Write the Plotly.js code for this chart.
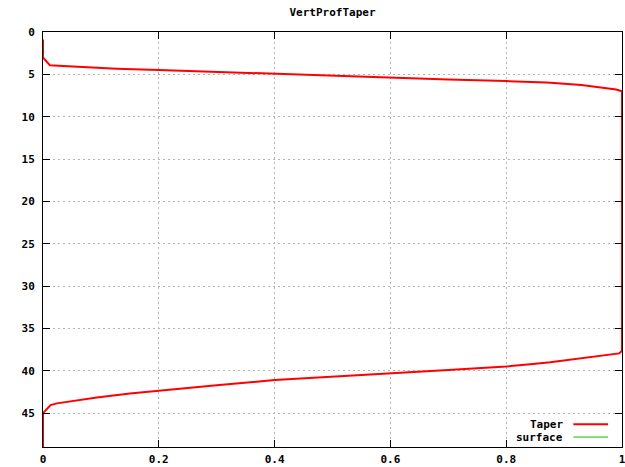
<!DOCTYPE html>
<html>
<head>
<meta charset="utf-8">
<script src="https://cdn.plot.ly/plotly-3.0.1.min.js"></script>
<style>
  html, body { margin: 0; padding: 0; background: #fff; }
  #chart { width: 625px; height: 467px; }
</style>
</head>
<body>
<div id="chart"></div>
<script>
// Vertical taper profile: taper weight (0..1) against depth (increasing downward)
const taperDepth = [
  0.9, 3.0, 3.7, 3.94, 4.02, 4.2, 4.33, 4.49, 4.72, 4.93, 5.2, 5.4, 5.6, 5.8,
  5.95, 6.26, 6.5, 6.8, 7.0,
  37.65, 37.95, 38.1, 38.3, 38.55, 38.8, 39.0, 39.2, 39.37, 39.5, 39.9, 40.3,
  40.65, 41.1, 41.7, 42.35, 42.68, 43.15, 43.54, 43.85, 44.05, 45.0, 49.0
];
const taperValue = [
  0, 0, 0.009, 0.012, 0.035, 0.081, 0.127, 0.2, 0.3, 0.4, 0.5, 0.6, 0.7, 0.8,
  0.87, 0.93, 0.96, 0.99, 1.0,
  1.0, 0.995, 0.979, 0.953, 0.927, 0.905, 0.876, 0.846, 0.819, 0.8, 0.7, 0.6,
  0.5, 0.4, 0.3, 0.2, 0.15, 0.093, 0.052, 0.024, 0.013, 0, 0
];
// surface series carries no points inside the plotted range
const surfaceDepth = [];
const surfaceValue = [];

const xTicks = [0, 0.2, 0.4, 0.6, 0.8, 1];
const xTickText = ['0', '0.2', '0.4', '0.6', '0.8', '1'];
const yTicks = [0, 5, 10, 15, 20, 25, 30, 35, 40, 45];

const seriesNames = ['Taper', 'surface'];
const seriesColors = ['#ff0000', '#00c000'];

const mono = { family: '"DejaVu Sans Mono", "Liberation Mono", monospace', size: 11, color: '#000', weight: 'bold' };

const traces = [
  {
    x: taperValue, y: taperDepth, mode: 'lines', name: seriesNames[0],
    line: { color: seriesColors[0], width: 2 }, showlegend: false
  },
  {
    x: surfaceValue, y: surfaceDepth, mode: 'lines', name: seriesNames[1],
    line: { color: seriesColors[1], width: 1 }, showlegend: false
  }
];

// key in the lower right: label text followed by a line sample
const keyRowsY = [0.055, 0.024];
const annotations = seriesNames.map((n, i) => ({
  text: n, xref: 'paper', yref: 'paper', x: 0.901, y: keyRowsY[i],
  xanchor: 'right', yanchor: 'middle', showarrow: false, font: mono
}));
const shapes = seriesNames.map((n, i) => ({
  type: 'line', xref: 'paper', yref: 'paper',
  x0: 0.916, x1: 0.976, y0: keyRowsY[i], y1: keyRowsY[i],
  line: { color: seriesColors[i], width: i === 0 ? 2 : 1 }
}));

const axisCommon = {
  showline: true, linecolor: '#000', linewidth: 1, mirror: 'allticks',
  ticks: 'inside', ticklen: 7, tickcolor: '#000', tickwidth: 1,
  showgrid: true, gridcolor: '#b4b4b4', griddash: '2px,3px', gridwidth: 1,
  zeroline: false, tickfont: mono, ticklabeloverflow: 'allow'
};

const layout = {
  width: 625, height: 467,
  margin: { l: 43, r: 3, t: 32, b: 20 },
  paper_bgcolor: '#fff', plot_bgcolor: '#fff',
  title: { text: 'VertProfTaper', font: mono, xref: 'paper', x: 0.5, xanchor: 'center',
           yref: 'container', y: 0.974, yanchor: 'middle' },
  xaxis: Object.assign({}, axisCommon, {
    range: [0, 1], tickvals: xTicks, ticktext: xTickText, ticklabelstandoff: 2
  }),
  yaxis: Object.assign({}, axisCommon, {
    range: [49, 0], tickvals: yTicks, ticklabelstandoff: 5
  }),
  annotations: annotations,
  shapes: shapes,
  showlegend: false
};

Plotly.newPlot('chart', traces, layout, { displayModeBar: false, staticPlot: true });
</script>
</body>
</html>
